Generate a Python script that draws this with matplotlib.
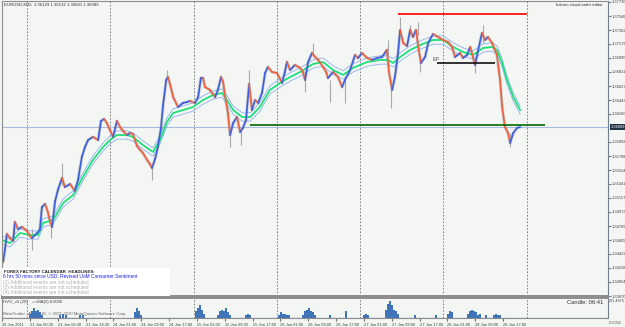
import numpy as np
import matplotlib.pyplot as plt
from matplotlib.collections import LineCollection
from matplotlib.patches import Rectangle
from matplotlib import transforms

plt.rcParams['font.family'] = ['Liberation Sans', 'DejaVu Sans']

# ---- data (x = trading hours since 20 Jan 16:30) ----
hours = [0.6, 1.2, 1.7, 2.6, 3.5, 4.0, 4.9, 6.1, 7.5, 8.4, 8.9, 10.4, 11.2, 11.8, 12.7, 13.5, 14.1, 14.7,
         15.6, 16.4, 17.6, 18.4, 19.9, 21.3, 22.2, 23.3, 24.2, 25.1, 26.5, 28.0, 28.8, 29.7, 30.5, 31.4,
         32.3, 33.4, 34.3, 35.2, 36.3, 37.2, 38.0, 39.2, 40.1, 40.9, 42.1, 42.9, 43.5, 44.4, 45.2, 46.1,
         46.7, 47.6, 48.1, 48.7, 49.6, 51.0, 52.4, 53.6, 54.5, 55.9, 56.8, 57.6, 58.2, 58.8, 60.2, 61.7,
         62.5, 63.4, 64.0, 64.6, 65.4, 66.0, 66.9, 68.0, 68.9, 69.7, 70.6, 71.5, 72.3, 73.2, 74.1, 75.2,
         76.1, 76.9, 78.1, 79.5, 81.0, 81.8, 82.4, 83.3, 84.7, 86.2, 87.0, 87.6, 88.5, 89.6, 90.5, 91.4,
         92.8, 93.7, 94.2, 95.7, 97.1, 98.3, 99.1, 100.6, 102.0, 102.9, 104.0, 105.5, 106.9, 108.4, 109.8,
         111.2, 111.8, 112.7, 113.5, 114.4, 115.0, 115.9, 117.0, 117.9, 118.7, 119.6, 120.2, 121.0, 122.2,
         123.1, 124.5, 125.9, 127.4, 128.8, 130.0, 130.8, 132.3, 133.1, 134.3, 135.2, 136.0, 136.6, 137.5,
         138.6, 139.5, 140.3, 141.5, 142.9, 143.8, 144.4, 145.2, 146.1, 146.7, 147.6, 148.7, 149.6]
close = [1.34316, 1.34500, 1.34684, 1.34631, 1.34592, 1.34841, 1.34750, 1.34776, 1.34723, 1.34658,
         1.34631, 1.34697, 1.34736, 1.35038, 1.35078, 1.34973, 1.34855, 1.34776, 1.35117, 1.35262,
         1.35419, 1.35301, 1.35340, 1.35249, 1.35393, 1.35695, 1.35826, 1.35918, 1.35958, 1.35918,
         1.36168, 1.36194, 1.36141, 1.36049, 1.35958, 1.36168, 1.36089, 1.36036, 1.35984, 1.36010,
         1.35997, 1.35839, 1.35787, 1.35747, 1.35656, 1.35603, 1.35551, 1.35669, 1.35826, 1.36076,
         1.36378, 1.36706, 1.36745, 1.36653, 1.36483, 1.36351, 1.36404, 1.36417, 1.36430, 1.36404,
         1.36483, 1.36732, 1.36732, 1.36614, 1.36575, 1.36483, 1.36575, 1.36745, 1.36680, 1.36483,
         1.36273, 1.35984, 1.36141, 1.36220, 1.36023, 1.36076, 1.36181, 1.36653, 1.36312, 1.36443,
         1.36404, 1.36535, 1.36798, 1.36877, 1.36811, 1.36798, 1.36667, 1.36811, 1.36942, 1.36837,
         1.36903, 1.36864, 1.36811, 1.36706, 1.36942, 1.37060, 1.37008, 1.36969, 1.36877, 1.36811,
         1.36732, 1.36811, 1.36745, 1.36614, 1.36706, 1.36837, 1.37034, 1.36995, 1.37060, 1.36995,
         1.36969, 1.36995, 1.37008, 1.37100, 1.36811, 1.36575, 1.36745, 1.37060, 1.37362, 1.37192,
         1.37152, 1.37362, 1.37271, 1.37362, 1.37152, 1.36929, 1.37008, 1.37192, 1.37310, 1.37271,
         1.37231, 1.37205, 1.37139, 1.37008, 1.37060, 1.36995, 1.37034, 1.37139, 1.37008, 1.36903,
         1.37100, 1.37323, 1.37231, 1.37271, 1.37192, 1.37034, 1.36706, 1.36351, 1.36089, 1.36010,
         1.35879, 1.36010, 1.36076, 1.36089]

ma_hours = [0.3, 2.6, 5.5, 8.4, 10.7, 12.1, 15.0, 17.9, 20.8, 23.6, 26.5, 29.4, 31.4, 33.4, 36.3, 38.0,
            40.9, 43.8, 45.8, 47.8, 49.6, 52.5, 55.3, 58.2, 61.1, 63.7, 65.1, 66.9, 69.5, 71.8, 74.6,
            77.5, 80.4, 83.3, 86.2, 89.9, 92.8, 95.7, 98.6, 101.4, 105.5, 109.2, 111.5, 113.0, 115.0,
            117.9, 120.8, 124.5, 127.4, 130.3, 133.1, 136.0, 138.9, 141.5, 142.9, 144.4, 145.8, 147.6,
            149.6]
ma = [1.34605, 1.34566, 1.34697, 1.34671, 1.34671, 1.34828, 1.34868, 1.35091, 1.35196, 1.35432,
      1.35656, 1.35826, 1.35918, 1.35984, 1.35984, 1.35958, 1.35852, 1.35761, 1.35918, 1.36154,
      1.36273, 1.36312, 1.36351, 1.36443, 1.36509, 1.36535, 1.36443, 1.36312, 1.36220, 1.36220,
      1.36351, 1.36575, 1.36667, 1.36745, 1.36811, 1.36916, 1.36942, 1.36837, 1.36772, 1.36864,
      1.36942, 1.36969, 1.36969, 1.36929, 1.37008, 1.37100, 1.37165, 1.37231, 1.37231, 1.37139,
      1.37074, 1.37034, 1.37126, 1.37139, 1.37100, 1.36929, 1.36706, 1.36483, 1.36312]
envelope_dev = 0.0004

wick_hours = [8.9, 14.4, 17.6, 43.5, 47.8, 66.0, 69.2, 71.5, 87.6, 89.9, 94.8, 99.1, 111.5, 112.4,
              115.0, 117.9, 120.2, 120.8, 136.6, 138.9, 146.7]
wick_low = [1.34474, 1.34631, 1.35327, 1.35393, 1.36706, 1.35826, 1.35852, 1.36575, 1.36548, 1.37034,
            1.36417, 1.36404, 1.37034, 1.36338, 1.37297, 1.37297, 1.37297, 1.36811, 1.36798, 1.37192,
            1.35826]
wick_high = [1.34750, 1.34855, 1.35616, 1.35603, 1.36837, 1.36049, 1.36076, 1.36837, 1.36798, 1.37192,
             1.36706, 1.36706, 1.37231, 1.36600, 1.37533, 1.37428, 1.37468, 1.37008, 1.36995, 1.37428,
             1.36010]

vol_hours = [8.4, 8.9, 9.5, 10.1, 10.7, 11.2, 11.8, 17.0, 17.9, 18.7, 22.8, 23.6, 38.6, 39.2, 39.8, 40.3,
             56.2, 56.8, 57.4, 57.9, 58.5, 62.5, 63.1, 63.7, 64.3, 64.8, 65.4, 66.0, 70.6, 71.2, 71.8,
             80.1, 80.7, 81.3, 81.8, 82.4, 83.0, 87.0, 87.6, 88.2, 88.8, 89.3, 89.9, 90.5, 94.8, 99.4,
             104.6, 105.2, 105.8, 111.0, 111.5, 112.1, 112.7, 113.3, 113.8, 114.4, 119.3, 125.4, 128.8,
             129.4, 130.0, 134.6, 135.2, 135.7, 136.3, 136.9, 137.5, 138.0, 139.8, 142.1, 142.7, 143.2,
             143.8]
volume = [49, 86, 111, 74, 98, 62, 37, 37, 49, 25, 25, 25, 62, 111, 74, 37,
          74, 123, 160, 98, 49, 37, 74, 98, 86, 111, 62, 25, 37, 49, 25,
          37, 62, 49, 49, 37, 25, 37, 74, 98, 111, 86, 62, 37, 25, 74,
          37, 49, 25, 98, 172, 209, 148, 98, 74, 49, 25, 25, 49,
          86, 62, 49, 86, 98, 74, 62, 37, 49, 37, 37, 49, 37, 25]

# 1.36076 sits under the bid box in the screenshot, so it is not printed
price_labels = ['1.37730', '1.37546', '1.37362', '1.37179', '1.36995', '1.36811', '1.36627', '1.36443',
                '1.36260', '1.35892', '1.35708', '1.35524', '1.35341', '1.35157', '1.34973',
                '1.34789', '1.34605', '1.34422', '1.34238', '1.34054', '1.33870']
date_labels = ['20 Jan 2011', '21 Jan 00:30', '21 Jan 08:30', '21 Jan 16:30', '24 Jan 01:00',
               '24 Jan 09:00', '24 Jan 17:00', '25 Jan 01:00', '25 Jan 09:00', '25 Jan 17:00',
               '26 Jan 01:00', '26 Jan 09:00', '26 Jan 17:00', '27 Jan 01:00', '27 Jan 09:00',
               '27 Jan 17:00', '28 Jan 01:00', '28 Jan 09:00', '28 Jan 17:00']
day_sep = [7.5, 31.5, 55.5, 79.5, 103.5, 127.5, 151.5]

bid = 1.36089
resistance = (114.4, 151.6, 1.37573)
ep_line = (125.6, 142.4, 1.36929)
support = (71.8, 156.8, 1.36109)

# ---- figure ----
W, H = 625, 327
BG = '#f4f6f4'
FS = 2.9
fig = plt.figure(figsize=(W / 100, H / 100), dpi=100)
fig.patch.set_facecolor(BG)


def box(x0, y0, x1, y1):
    return [x0 / W, 1 - y1 / H, (x1 - x0) / W, (y1 - y0) / H]


ax = fig.add_axes(box(2, 1, 608, 296))
vax = fig.add_axes(box(2, 298, 608, 318))
for a in (ax, vax):
    a.set_facecolor(BG)
    a.set_xlim(0.29, 174.9)
    for s in a.spines.values():
        s.set_color('#8c8c8c')
        s.set_linewidth(0.8)
    a.spines['right'].set_color('#6f7f90')
    for h in day_sep:
        a.axvline(h, color='#707070', lw=0.6, ls=(0, (2, 2)), zorder=0.5)
    # pink dotted background texture
    gx, gy = np.meshgrid(np.arange(0, 1, 0.0149), np.arange(0, 1, 0.024 if a is ax else 0.33))
    gx = (gx + 0.0062 * (np.arange(gx.shape[0])[:, None] % 3)) % 1
    a.scatter(gx.ravel(), gy.ravel(), s=0.25, marker='s', color='#f2b6b6', lw=0,
              transform=a.transAxes, zorder=0.2)

ax.spines['bottom'].set_linewidth(1.4)
vax.spines['top'].set_linewidth(1.4)

ax.set_ylim(1.33870, 1.37743)

# price: gray candle shadow, then up/down coloured line
ax.vlines(wick_hours, wick_low, wick_high, color='#a8a8a8', lw=0.8, zorder=1)
ax.plot(hours, close, color='#a8a8a8', lw=2.2, alpha=0.55, zorder=1.2, solid_capstyle='round')
pts = np.column_stack([hours, close])
segs = np.stack([pts[:-1], pts[1:]], axis=1)
cols = ['#3d5fe0' if b >= a else '#f2603e' for a, b in zip(close[:-1], close[1:])]
ax.add_collection(LineCollection(segs, colors=cols, linewidths=1.2, zorder=2, capstyle='round'))

# moving average with envelopes
ma_arr = np.array(ma)
ax.plot(ma_hours, ma_arr * (1 + envelope_dev), color='#86aaee', lw=0.55, zorder=1.5)
ax.plot(ma_hours, ma_arr * (1 - envelope_dev), color='#86aaee', lw=0.55, zorder=1.5)
ax.plot(ma_hours, ma_arr, color='#1fe07a', lw=1.3, zorder=1.6)

# horizontal levels
ax.axhline(bid, color='#a8bce0', lw=0.8, zorder=0.8)
ax.hlines(resistance[2], resistance[0], resistance[1], color='#ff1010', lw=1.3, zorder=3)
ax.hlines(ep_line[2], ep_line[0], ep_line[1], color='#101010', lw=1.2, zorder=3)
ax.hlines(support[2], support[0], support[1], color='#006a00', lw=1.2, zorder=3)
ax.text(ep_line[0] - 1.2, ep_line[2] + 0.00012, 'EP', fontsize=3.8, color='#555555', va='bottom')

# right price scale
ax.yaxis.tick_right()
ax.set_yticks([float(s) for s in price_labels], price_labels)
ax.tick_params(axis='y', length=2, pad=0.8, labelsize=FS, labelcolor='#404040', color='#6f7f90')
ax.tick_params(axis='x', bottom=False, labelbottom=False)
trans = transforms.blended_transform_factory(ax.transAxes, ax.transData)
ax.text(1.0045, bid, '1.36089', transform=trans, fontsize=FS, color='white', va='center', ha='left',
        bbox=dict(boxstyle='square,pad=0.2', fc='#1f3344', ec='none'), zorder=5, clip_on=False)

# volume sub-window
vax.set_ylim(-6, 240)
vax.bar(vol_hours, volume, width=0.6, color='#3f74b8', lw=0, zorder=2)
vax.axhline(0, color='#9cc0ee', lw=1.0, zorder=1.8)
vax.set_yticks([])
vax.set_xticks(np.arange(len(date_labels)) * 8.02 + 0.3, date_labels)
vax.tick_params(axis='x', length=2, pad=1.5, labelsize=FS, labelcolor='#404040', color='#707070')
for lab in vax.get_xticklabels():
    lab.set_ha('left')
vax.text(0.002, 0.78, 'HVO_v5 (20)    ==MA(0) 0.0000', transform=vax.transAxes, fontsize=3.1,
         color='#404040', va='center')
vax.text(0.002, 0.2, 'MetaTrader - Alpari UK, \u00a9 2001-2010 MetaQuotes Software Corp.',
         transform=vax.transAxes, fontsize=3.1, color='#606060', va='center', zorder=1)
vax.text(0.993, 0.78, 'Candle: 06:41', transform=vax.transAxes, fontsize=4.2, color='#303030',
         va='center', ha='right')
fig.text(609 / W, 1 - 301 / H, '231.4675', fontsize=2.7, color='#404040', va='center')
fig.text(609 / W, 1 - 323 / H, '-0.0052', fontsize=2.7, color='#404040', va='center')

# chart header texts
fig.text(4 / W, 1 - 5 / H, 'EURUSD,M15  1.36129 1.36132 1.36081 1.36089', fontsize=3.1,
         color='#303030', va='center')
fig.text(603 / W, 1 - 5 / H, 'fukven visual order editor', fontsize=3.1, color='#303030',
         va='center', ha='right')

# forex factory headline box
fig.patches.append(Rectangle((2 / W, 1 - 296 / H), 168 / W, 28 / H, transform=fig.transFigure,
                             fc='white', ec='none', zorder=1))
fig.text(4 / W, 1 - 272 / H, 'FOREX FACTORY CALENDAR  HEADLINES:', fontsize=3.2, color='#202020',
         weight='bold', va='center')
fig.text(3 / W, 1 - 277 / H, '6 hrs 50 mins since USD: Revised UoM Consumer Sentiment', fontsize=3.5,
         color='#2020e0', va='center')
for i, n in enumerate(['(2)', '(3)', '(4)']):
    fig.text(3 / W, 1 - (282.5 + 5 * i) / H, n + ' Additional events are not scheduled', fontsize=3.5,
             color='#b0b0b0', va='center')

fig.savefig('out.png', dpi=100, facecolor=BG)
